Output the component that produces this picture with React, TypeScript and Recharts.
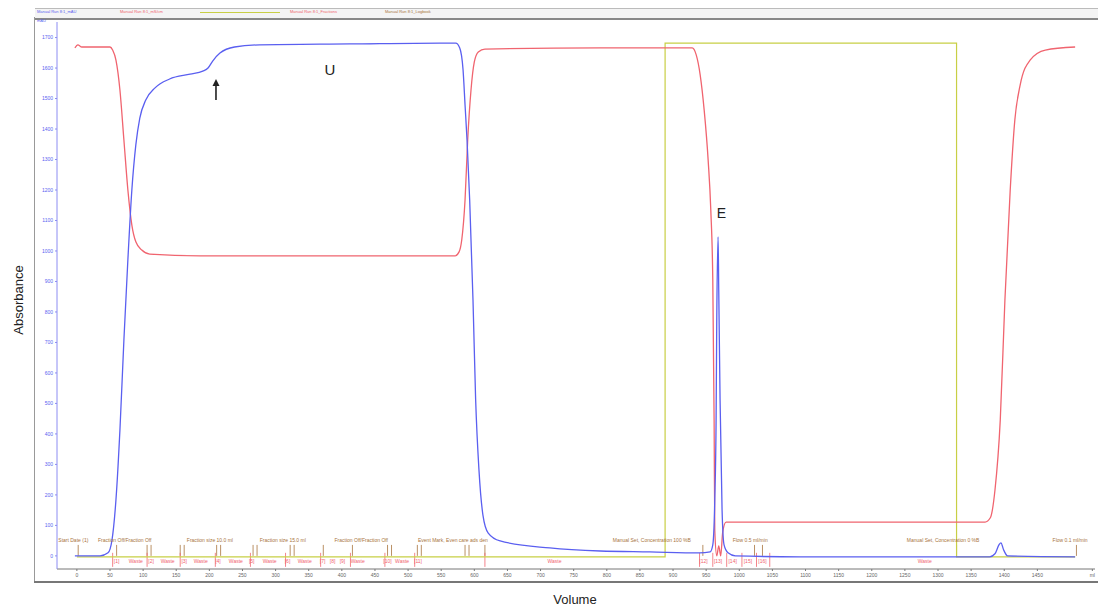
import React from 'react';
import {
  LineChart,
  Line,
  XAxis,
  YAxis,
  ReferenceLine,
  ReferenceDot
} from 'recharts';

// UV trace (mAU) - volume in ml
const uvVolume = [-3, 35, 47, 53, 59, 65, 71, 77, 83, 89, 95, 104, 118, 140, 171, 190, 198, 205, 216, 238, 276, 412, 548, 572, 578, 583, 586, 589, 593, 598, 602, 607, 613, 621, 639, 714, 790, 865, 940, 956, 960, 963, 965, 966, 968, 969, 971, 974, 977, 983, 994, 1092, 1378, 1386, 1392, 1395, 1399, 1405, 1507];
const uvValue = [0, 0, 10, 52, 184, 413, 708, 971, 1200, 1348, 1436, 1495, 1535, 1564, 1580, 1590, 1600, 1623, 1649, 1669, 1676, 1679, 1682, 1682, 1666, 1594, 1479, 1364, 1167, 839, 512, 282, 134, 75, 49, 26, 16, 13, 10, 13, 36, 184, 446, 774, 1046, 872, 512, 151, 36, 10, 0, -3, -3, 7, 36, 43, 20, 0, -3];

// conductivity trace (scaled to the same axis)
const condVolume = [-3, 1.5, 7.5, 50, 54, 59, 65, 71, 77, 83, 89, 98, 110, 186, 337, 571, 577, 581, 586, 590, 595, 600, 606, 616, 790, 929, 935, 941, 947, 953, 957, 960, 962, 963, 966, 969, 972, 975, 980, 1092, 1371, 1379, 1386, 1394, 1401, 1409, 1416, 1424, 1439, 1462, 1507];
const condValue = [1666, 1676, 1669, 1669, 1659, 1626, 1528, 1364, 1200, 1085, 1030, 1003, 990, 984, 984, 984, 997, 1036, 1167, 1364, 1528, 1620, 1653, 1662, 1666, 1666, 1643, 1577, 1462, 1298, 1134, 905, 446, 85, 0, 33, 0, 79, 111, 111, 111, 125, 216, 446, 839, 1200, 1430, 1544, 1626, 1659, 1669];

// concentration %B trace
const concVolume = [0, 888, 888, 1328, 1328, 1507];
const concValue = [-3, -3, 1682, 1682, -3, -3];

// logbook events
const eventVolume = [-28, 32, 166, 276, 389, 515, 809, 990, 1253, 1473];
const eventText = [
  'Start Date (1)',
  'Fraction Off/Fraction Off',
  'Fraction size 10.0 ml',
  'Fraction size 15.0 ml',
  'Fraction Off/Fraction Off',
  'Event Mark, Even care ads den',
  'Manual Set, Concentration 100 %B',
  'Flow 0.5 ml/min',
  'Manual Set, Concentration 0 %B',
  'Flow 0.1 ml/min'
];
const eventTicks = [2, 60, 106, 112, 156, 162, 211, 217, 266, 272, 322, 328, 372, 416, 469, 475, 514, 520, 586, 592, 616, 945, 1023, 1035, 1328, 1509];

// fractions
const fracVolume = [60, 89, 112, 137, 162, 187, 213, 240, 264, 291, 318, 344, 371, 386, 401, 424, 469, 491, 515, 721, 946, 968, 990, 1013, 1035, 1280];
const fracText = ['[1]', 'Waste', '[2]', 'Waste', '[3]', 'Waste', '[4]', 'Waste', '[5]', 'Waste', '[6]', 'Waste', '[7]', '[8]', '[9]', 'Waste', '[10]', 'Waste', '[11]', 'Waste', '[12]', '[13]', '[14]', '[15]', '[16]', 'Waste'];
const fracTicks = [54, 106, 156, 209, 262, 315, 368, 413, 465, 510, 616, 940, 960, 981, 1004, 1026, 1046];

const xTicks = Array.from({ length: 30 }, (_, i) => i * 50).concat([1533]);
const yTicks = Array.from({ length: 18 }, (_, i) => i * 100);

const zip = (xs: number[], ys: number[]) => xs.map((v, i) => ({ v, a: ys[i] }));
const uvData = zip(uvVolume, uvValue);
const condData = zip(condVolume, condValue);
const concData = zip(concVolume, concValue);

const BLUE = '#5a5ff0';
const RED = '#f0646f';
const YELLOW = '#c8cf45';
const BROWN = '#a8743c';
const FONT = '"Liberation Sans", Arial, sans-serif';

const TextAt = ({ cx, cy, text, fill, size, anchor }: any) => (
  <text x={cx} y={cy} fill={fill} fontSize={size} textAnchor={anchor || 'start'} dominantBaseline="middle" fontFamily={FONT}>
    {text}
  </text>
);

const Arrow = ({ cx, cy }: any) => (
  <g>
    <line x1={cx} y1={cy + 4} x2={cx} y2={cy + 21} stroke="#222" strokeWidth={1.6} />
    <path d={`M${cx - 3.5},${cy + 7} L${cx},${cy} L${cx + 3.5},${cy + 7} Z`} fill="#222" />
  </g>
);

export default function App() {
  return (
    <div style={{ position: 'absolute', left: 0, top: 0, width: 1100, height: 608, background: '#fff', fontFamily: FONT }}>
      {/* header / frame */}
      <div style={{ position: 'absolute', left: 35, top: 8, width: 1063, height: 9, borderTop: '1px solid #bbb', borderBottom: '2px solid #888', background: '#f4f4f4' }} />
      <div style={{ position: 'absolute', left: 37, top: 9, fontSize: 4, color: BLUE, whiteSpace: 'nowrap' }}>Manual Run 8:1_mAU</div>
      <div style={{ position: 'absolute', left: 120, top: 9, fontSize: 4, color: RED, whiteSpace: 'nowrap' }}>Manual Run 8:1_mS/cm</div>
      <div style={{ position: 'absolute', left: 200, top: 12, width: 80, height: 1, background: YELLOW }} />
      <div style={{ position: 'absolute', left: 290, top: 9, fontSize: 4, color: RED, whiteSpace: 'nowrap' }}>Manual Run 8:1_Fractions</div>
      <div style={{ position: 'absolute', left: 385, top: 9, fontSize: 4, color: BROWN, whiteSpace: 'nowrap' }}>Manual Run 8:1_Logbook</div>
      <div style={{ position: 'absolute', left: 37, top: 18, fontSize: 4, color: BLUE }}>mAU</div>
      <div style={{ position: 'absolute', left: 34, top: 17, width: 1, height: 565, background: '#999' }} />
      <div style={{ position: 'absolute', left: 34, top: 581, width: 1064, height: 2, background: '#777' }} />
      <div style={{ position: 'absolute', left: 18, top: 300, transform: 'translate(-50%, -50%) rotate(-90deg)', fontSize: 13, color: '#222', whiteSpace: 'nowrap' }}>Absorbance</div>
      <div style={{ position: 'absolute', left: 575, top: 599, transform: 'translate(-50%, -50%)', fontSize: 13, color: '#222' }}>Volume</div>

      <div style={{ position: 'absolute', left: 0, top: 0 }}>
        <LineChart width={1100} height={608} margin={{ top: 22, right: 5, bottom: 29, left: 35 }}>
          <XAxis
            dataKey="v"
            type="number"
            domain={[-30, 1537]}
            ticks={xTicks}
            allowDataOverflow
            tickSize={2}
            stroke="#777"
            tick={{ fontSize: 5, fill: '#666', fontFamily: FONT }}
            tickFormatter={(v: number) => (v === 1533 ? 'ml' : String(v))}
            height={10}
            interval={0}
          />
          <YAxis
            type="number"
            domain={[-43, 1751]}
            ticks={yTicks}
            allowDataOverflow
            width={22}
            tickSize={2}
            stroke="#8c8cf2"
            tick={{ fontSize: 5, fill: BLUE, fontFamily: FONT }}
            interval={0}
          />

          {eventTicks.map((v, i) => (
            <ReferenceLine key={'et' + i} segment={[{ x: v, y: 0 }, { x: v, y: 36 }]} stroke={BROWN} strokeWidth={0.8} />
          ))}
          {fracTicks.map((v, i) => (
            <ReferenceLine key={'ft' + i} segment={[{ x: v, y: -36 }, { x: v, y: 10 }]} stroke={RED} strokeWidth={0.8} />
          ))}

          <Line data={concData} dataKey="a" type="linear" stroke={YELLOW} strokeWidth={1.2} dot={false} isAnimationActive={false} />
          <Line data={condData} dataKey="a" type="monotone" stroke={RED} strokeWidth={1.3} dot={false} isAnimationActive={false} />
          <Line data={uvData} dataKey="a" type="monotone" stroke={BLUE} strokeWidth={1.3} dot={false} isAnimationActive={false} />

          {eventVolume.map((v, i) => (
            <ReferenceDot key={'ev' + i} x={v} y={49} r={0} ifOverflow="visible"
              shape={(p: any) => <TextAt {...p} text={eventText[i]} fill={BROWN} size={5} />} />
          ))}
          {fracVolume.map((v, i) => (
            <ReferenceDot key={'fr' + i} x={v} y={-20} r={0} ifOverflow="visible"
              shape={(p: any) => <TextAt {...p} text={fracText[i]} fill={RED} size={5} anchor="middle" />} />
          ))}

          <ReferenceDot x={382} y={1590} r={0} ifOverflow="visible"
            shape={(p: any) => <TextAt {...p} text="U" fill="#222" size={15} anchor="middle" />} />
          <ReferenceDot x={973} y={1121} r={0} ifOverflow="visible"
            shape={(p: any) => <TextAt {...p} text="E" fill="#222" size={14} anchor="middle" />} />
          <ReferenceDot x={210} y={1564} r={0} ifOverflow="visible" shape={(p: any) => <Arrow {...p} />} />
        </LineChart>
      </div>
    </div>
  );
}
